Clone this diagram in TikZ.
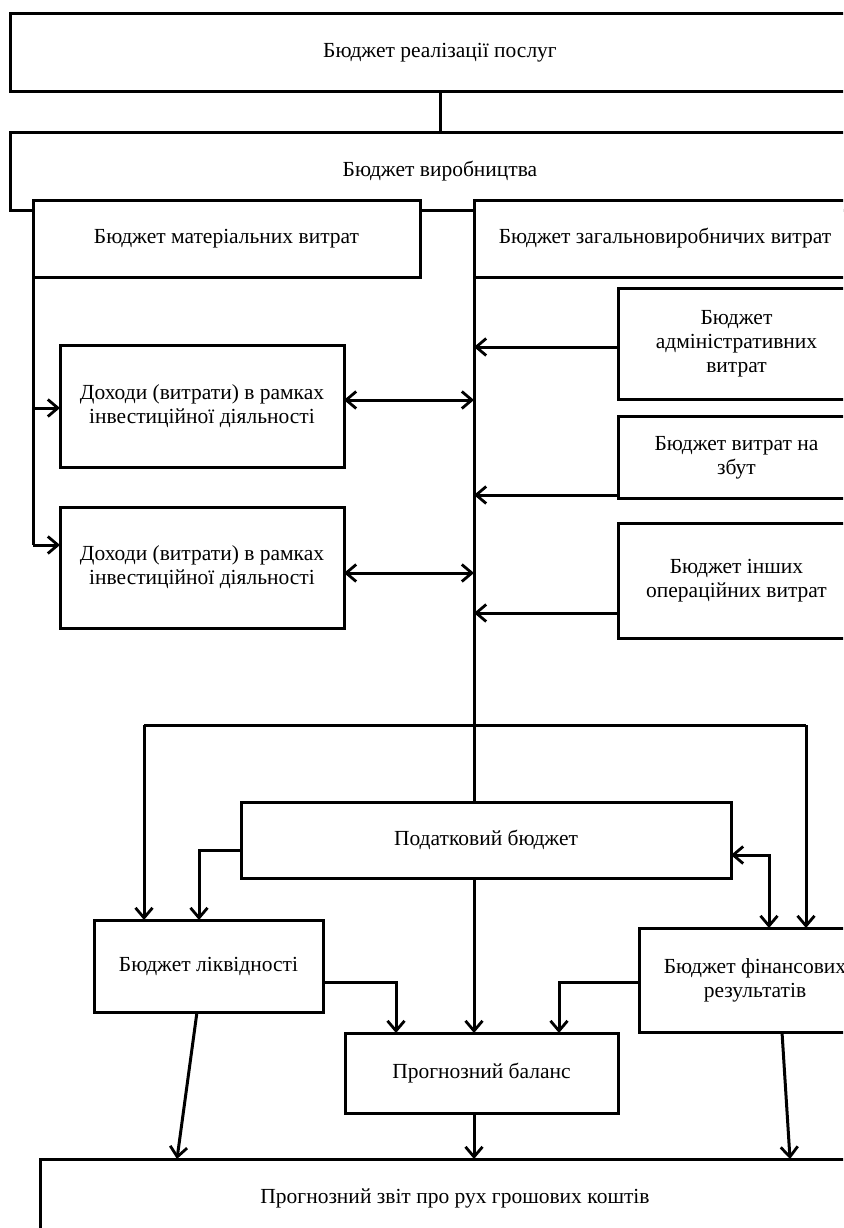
\documentclass[tikz,border=0pt]{standalone}
\usepackage{fontspec}
\setmainfont{Liberation Serif}
\usetikzlibrary{arrows.meta}
\begin{document}
\begin{tikzpicture}[x=1pt,y=-1pt,
  box/.style={draw, line width=3pt, fill=white, inner sep=0pt, outer sep=0pt, align=center,
    font=\fontsize{21.5}{24}\selectfont},
  ln/.style={line width=3pt},
  arr/.style={ln, -{Straight Barb[length=10pt,width=17pt,line width=2.8pt]}},
  dbl/.style={ln, {Straight Barb[length=10pt,width=17pt,line width=2.8pt]}-{Straight Barb[length=10pt,width=17pt,line width=2.8pt]}}]
\useasboundingbox (0,0) rectangle (843,1228);
\clip (0,0) rectangle (843,1228);
\fill[white] (0,0) rectangle (843,1228);

\node[box, minimum width=860pt, minimum height=78pt] (real) at (440,53) {Бюджет реалізації послуг};
\node[box, minimum width=860pt, minimum height=77pt] (prod) at (440,171.5) {Бюджет виробництва};
\node[box, minimum width=387pt, minimum height=77pt] (mat) at (226.5,238.5) {Бюджет матеріальних витрат};
\node[box, minimum width=382pt, minimum height=77pt] (gen) at (665,238.5) {Бюджет загальновиробничих витрат};
\node[box, minimum width=284pt, minimum height=122pt] (inv1) at (202,406) {Доходи (витрати) в рамках\\інвестиційної діяльності};
\node[box, minimum width=284pt, minimum height=121pt] (inv2) at (202,567.5) {Доходи (витрати) в рамках\\інвестиційної діяльності};
\node[box, minimum width=237pt, minimum height=111pt] (adm) at (736.5,343.5) {Бюджет\\адміністративних\\витрат};
\node[box, minimum width=237pt, minimum height=82pt] (sale) at (736.5,457.5) {Бюджет витрат на\\збут};
\node[box, minimum width=237pt, minimum height=115pt] (oth) at (736.5,580.5) {Бюджет інших\\операційних витрат};
\node[box, minimum width=490pt, minimum height=76pt] (tax) at (486,840) {Податковий бюджет};
\node[box, minimum width=229pt, minimum height=92pt] (liq) at (208.5,966) {Бюджет ліквідності};
\node[box, minimum width=232pt, minimum height=104pt] (fin) at (755,980) {Бюджет фінансових\\результатів};
\node[box, minimum width=273pt, minimum height=80pt] (bal) at (481.5,1073) {Прогнозний баланс};
\node[box, minimum width=830pt, minimum height=78pt] (cash) at (455,1198) {Прогнозний звіт про рух грошових коштів};

% coordinates
\coordinate (la1) at (33,408);
\coordinate (la2) at (33,545);
\coordinate (d1) at (474,400);
\coordinate (d2) at (474,573);
\coordinate (r1) at (474,347);
\coordinate (r2) at (474,495);
\coordinate (r3) at (474,613);
\coordinate (h) at (474,725);
\coordinate (hl) at (144,725);
\coordinate (hr) at (806,725);
\coordinate (tl) at (199,850);
\coordinate (tr) at (769,855);
\coordinate (lr) at (396,982);
\coordinate (fl) at (559,982);
\coordinate (lbs) at (197,1012);
\coordinate (lbe) at (177,1159);
\coordinate (fbs) at (782,1032);
\coordinate (fbe) at (790,1159);

\draw[ln] (real) -- (prod);
\draw[ln] (mat.south west) -- (la2);
\draw[arr] (la1) -- (la1 -| inv1.west);
\draw[arr] (la2) -- (la2 -| inv2.west);
\draw[ln] (gen.south west) -- (gen.south west |- tax.north);
\draw[dbl] (d1 -| inv1.east) -- (d1);
\draw[dbl] (d2 -| inv2.east) -- (d2);
\draw[arr] (r1 -| adm.west) -- (r1);
\draw[arr] (r2 -| sale.west) -- (r2);
\draw[arr] (r3 -| oth.west) -- (r3);
\draw[ln] (hl) -- (hr);
\draw[arr] (hl) -- (hl |- liq.north);
\draw[arr] (hr) -- (hr |- fin.north);
\draw[arr] (tl -| tax.west) -- (tl) -- (tl |- liq.north);
\draw[dbl] (tr -| tax.east) -- (tr) -- (tr |- fin.north);
\draw[arr] (tax.south -| h) -- (bal.north -| h);
\draw[arr] (lr -| liq.east) -- (lr) -- (lr |- bal.north);
\draw[arr] (fl -| fin.west) -- (fl) -- (fl |- bal.north);
\draw[arr] (bal.south -| h) -- (cash.north -| h);
\draw[arr] (liq.south -| lbs) -- (lbe |- cash.north);
\draw[arr] (fin.south -| fbs) -- (fbe |- cash.north);
\end{tikzpicture}
\end{document}
